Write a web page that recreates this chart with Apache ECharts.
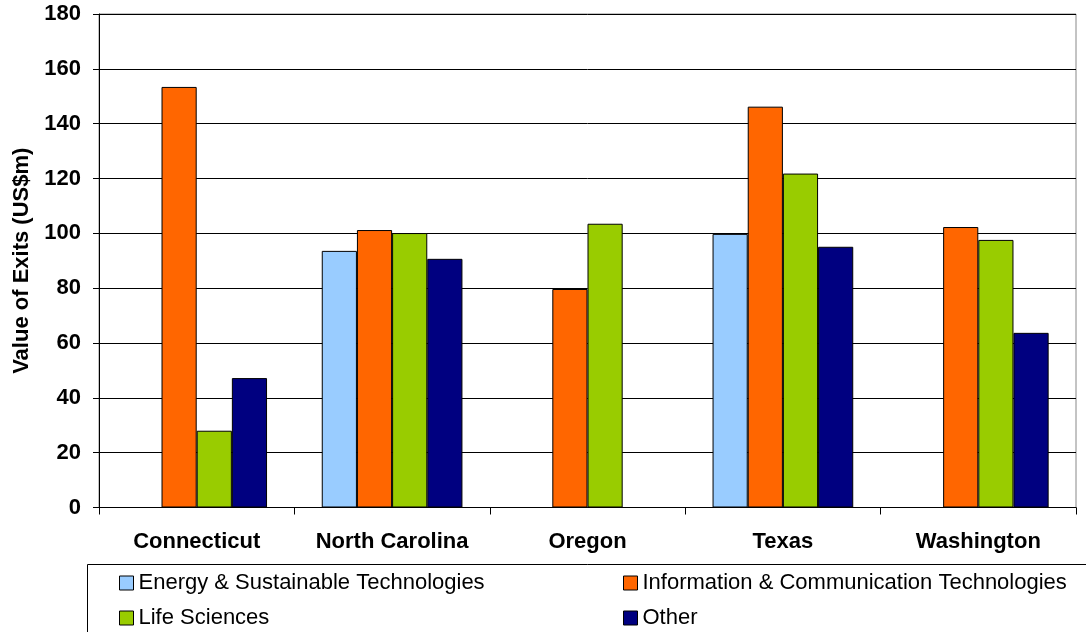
<!DOCTYPE html>
<html>
<head>
<meta charset="utf-8">
<script src="https://cdn.jsdelivr.net/npm/echarts@6/dist/echarts.min.js"></script>
<style>
html,body{margin:0;padding:0;background:#fff;}
#c{width:1086px;height:632px;}
</style>
</head>
<body>
<div id="c"></div>
<script>
var categories = ['Connecticut', 'North Carolina', 'Oregon', 'Texas', 'Washington'];
var energy = [null, 93.6, null, 99.8, null];
var ict = [153.4, 101.2, 79.7, 146.2, 102.3];
var lifeSciences = [28.0, 100.1, 103.5, 121.8, 97.6];
var other = [47.2, 90.7, null, 95.1, 63.7];
var yTicks = { min: 0, max: 180, interval: 20 };
var seriesNames = ['Energy & Sustainable Technologies', 'Information & Communication Technologies', 'Life Sciences', 'Other'];
var colors = ['#99CCFF', '#FF6600', '#99CC00', '#000080'];

var font = 'Liberation Sans, Arial, Helvetica, sans-serif';
var chart = echarts.init(document.getElementById('c'), null, { renderer: 'canvas' });

function bar(name, data, color) {
  return {
    name: name,
    type: 'bar',
    data: data,
    barGap: '0%',
    barCategoryGap: '28%',
    itemStyle: { color: color, borderColor: '#000', borderWidth: 1 },
    animation: false
  };
}

var legendText = { fontFamily: font, fontSize: 22, color: '#000', lineHeight: 22 };

function legendCol(names, left) {
  return {
    data: names,
    orient: 'vertical',
    left: left,
    top: 572,
    height: 90,
    padding: 0,
    itemWidth: 14,
    itemHeight: 14,
    itemGap: 13,
    icon: 'rect',
    itemStyle: { borderColor: '#000', borderWidth: 1 },
    textStyle: legendText
  };
}

chart.setOption({
  animation: false,
  color: colors,
  grid: { left: 99, right: 10, top: 14, bottom: 124.5, show: true, borderColor: '#888', borderWidth: 1 },
  graphic: [{
    type: 'rect',
    shape: { x: 87.5, y: 564.5, width: 1100, height: 100 },
    style: { fill: 'none', stroke: '#000', lineWidth: 1 },
    z: 0
  }],
  legend: [legendCol([seriesNames[0], seriesNames[2]], 119), legendCol([seriesNames[1], seriesNames[3]], 623)],
  xAxis: {
    type: 'category',
    data: categories,
    axisLine: { lineStyle: { color: '#000', width: 1 } },
    axisTick: { show: true, interval: 0, length: 7, lineStyle: { color: '#000' } },
    axisLabel: { interval: 0, margin: 23, fontFamily: font, fontSize: 22, fontWeight: 'bold', color: '#000' },
    splitLine: { show: false }
  },
  yAxis: {
    type: 'value',
    min: yTicks.min,
    max: yTicks.max,
    interval: yTicks.interval,
    name: 'Value of Exits (US$m)',
    nameLocation: 'middle',
    nameGap: 66,
    nameTextStyle: { fontFamily: font, fontSize: 22, fontWeight: 'bold', color: '#000' },
    axisLine: { show: true, lineStyle: { color: '#000', width: 1 } },
    axisTick: { show: true, length: 6, lineStyle: { color: '#000' } },
    axisLabel: { margin: 18, fontFamily: font, fontSize: 22, fontWeight: 'bold', color: '#000' },
    splitLine: { show: true, lineStyle: { color: '#000', width: 1 } }
  },
  series: [
    bar(seriesNames[0], energy, colors[0]),
    bar(seriesNames[1], ict, colors[1]),
    bar(seriesNames[2], lifeSciences, colors[2]),
    bar(seriesNames[3], other, colors[3])
  ]
});
</script>
</body>
</html>
